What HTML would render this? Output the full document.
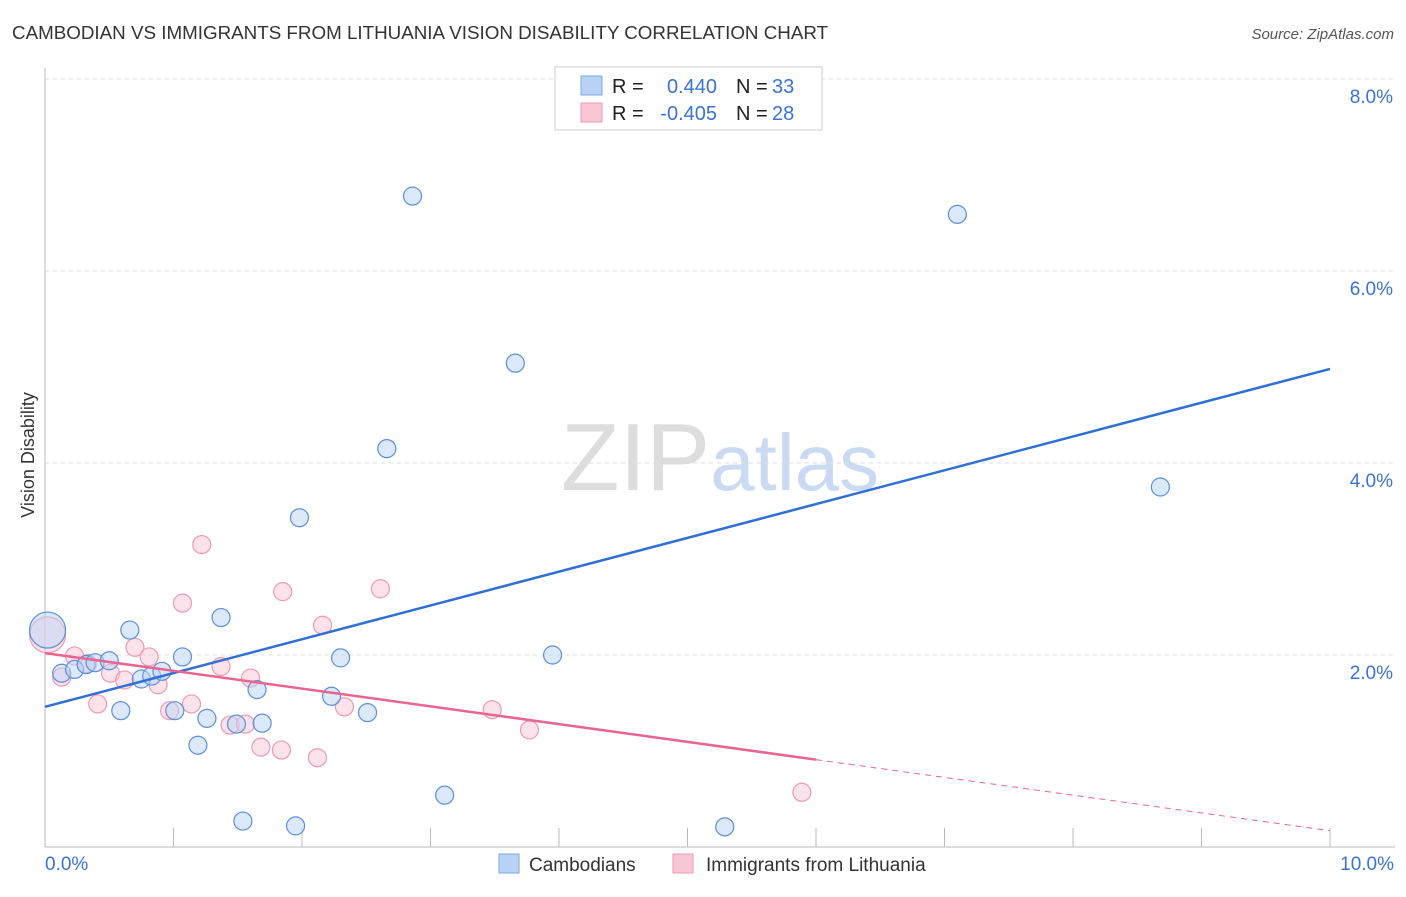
<!DOCTYPE html>
<html><head><meta charset="utf-8"><style>
body{margin:0;background:#fff;font-family:"Liberation Sans",sans-serif;}
svg text{font-family:"Liberation Sans",sans-serif;}
</style></head><body>
<svg id="chart" width="1406" height="892" xmlns="http://www.w3.org/2000/svg">
<text x="12" y="39" font-size="18.8" fill="#333">CAMBODIAN VS IMMIGRANTS FROM LITHUANIA VISION DISABILITY CORRELATION CHART</text>
<text x="1394" y="39" font-size="15" fill="#555" font-style="italic" text-anchor="end">Source: ZipAtlas.com</text>
<text x="720" y="490" font-size="96" text-anchor="middle" fill="#ddd" font-family="Liberation Serif">ZIP<tspan fill="#c9daf2" font-family="Liberation Sans" font-size="80">atlas</tspan></text>
<g id="grid"></g>
<g id="axes"></g>
<g id="marks"></g>
<text transform="translate(34,455) rotate(-90)" font-size="18" fill="#333" text-anchor="middle">Vision Disability</text>
<g>
<rect x="555" y="67" width="267" height="63" fill="#fff" stroke="#ccc"/>
<rect x="581" y="76" width="21" height="19" fill="#b9d3f7" stroke="#7ba7e6"/>
<rect x="581" y="103" width="21" height="19" fill="#f9c6d6" stroke="#ee9ab4"/>
<text x="612" y="93" font-size="20" fill="#222">R =</text><text x="717" y="93" font-size="20" fill="#3b73d1" text-anchor="end">0.440</text>
<text x="736" y="93" font-size="20" fill="#222">N =</text><text x="772" y="93" font-size="20" fill="#3b73d1">33</text>
<text x="612" y="120" font-size="20" fill="#222">R =</text><text x="717" y="120" font-size="20" fill="#3b73d1" text-anchor="end">-0.405</text>
<text x="736" y="120" font-size="20" fill="#222">N =</text><text x="772" y="120" font-size="20" fill="#3b73d1">28</text>
</g>
<g>
<rect x="499" y="854" width="20" height="19" fill="#b9d3f7" stroke="#7ba7e6"/>
<text x="529" y="871" font-size="19" fill="#333">Cambodians</text>
<rect x="673" y="854" width="20" height="19" fill="#f9c6d6" stroke="#ee9ab4"/>
<text x="706" y="871" font-size="19" fill="#333">Immigrants from Lithuania</text>
</g>
</svg>
<script>
const blueX=[0.02,0.13,0.23,0.32,0.39,0.50,0.59,0.66,0.75,0.83,0.91,1.01,1.07,1.19,1.26,1.37,1.49,1.65,1.69,1.54,1.95,1.98,2.23,2.30,2.51,2.66,2.86,3.11,3.66,3.95,5.29,7.10,8.68];
const blueY=[2.26,1.81,1.85,1.90,1.92,1.94,1.42,2.26,1.75,1.78,1.83,1.42,1.98,1.06,1.34,2.39,1.28,1.64,1.29,0.27,0.22,3.43,1.57,1.97,1.40,4.15,6.78,0.54,5.04,2.00,0.21,6.59,3.75];
const pinkX=[0.02,0.13,0.23,0.33,0.51,0.41,0.62,0.70,0.81,0.88,0.97,1.07,1.14,1.22,1.37,1.44,1.56,1.60,1.68,1.84,1.85,2.12,2.16,2.33,2.61,3.48,3.77,5.89];
const pinkY=[2.21,1.77,1.99,1.91,1.81,1.49,1.74,2.08,1.98,1.69,1.42,2.54,1.49,3.15,1.88,1.27,1.28,1.76,1.04,1.01,2.66,0.93,2.31,1.46,2.69,1.43,1.22,0.57];
const yTicks=[2,4,6,8];
const yTickLabels=["2.0%","4.0%","6.0%","8.0%"];
const xTickLabels=["0.0%","10.0%"];
const blueTrend=[1.46,4.98];
const pinkTrend=[2.02,0.17];
const pinkSolidEnd=6.0;
const NS="http://www.w3.org/2000/svg";
const sx=v=>45+v*128.5, sy=v=>847-v*96;
function mk(tag,attrs,parent){const e=document.createElementNS(NS,tag);for(const k in attrs)e.setAttribute(k,attrs[k]);document.getElementById(parent).appendChild(e);return e;}
yTicks.forEach((t,i)=>{
 const l=mk('line',{x1:45,x2:1395,y1:sy(t),y2:sy(t),stroke:'#ddd','stroke-dasharray':'4,4'},'grid');
 
 
 const tx=mk('text',{x:1393,y:sy(t)+24,'font-size':19,fill:'#3b73d1','text-anchor':'end'},'axes');
 tx.textContent=yTickLabels[i];
 
 
});
const ax=mk('line',{x1:45,x2:1395,y1:847,y2:847,stroke:'#bbb'},'axes');


const ay=mk('line',{x1:45,x2:45,y1:68,y2:847,stroke:'#bbb'},'axes');


for(let i=1;i<=10;i++){
 const t=mk('line',{x1:sx(i),x2:sx(i),y1:828,y2:847,stroke:'#bbb'},'axes');
 
 
}
[[0,'start',45],[10,'end',1394]].forEach((p,i)=>{
 const t=mk('text',{x:p[2],y:870,'font-size':19,fill:'#3b73d1','text-anchor':p[1]},'axes');
 t.textContent=xTickLabels[i];
 
 
});
function pts(xs,ys,fill,stroke,name){
 xs.forEach((x,i)=>{
  const c=mk('circle',{cx:sx(x),cy:sy(ys[i]),r:i===0?18:9,fill:fill,'fill-opacity':0.5,stroke:stroke,'stroke-width':1.2},'marks');
  
  
 });
}
pts(pinkX,pinkY,'#f9c6d6','#ee9ab4','point-lithuania');
pts(blueX,blueY,'#b9d3f7','#5b8fdc','point-cambodian');
const bl=mk('line',{x1:sx(0),y1:sy(blueTrend[0]),x2:sx(10),y2:sy(blueTrend[1]),stroke:'#2f6fd6','stroke-width':2.5},'marks');


const pAt=x=>pinkTrend[0]+(pinkTrend[1]-pinkTrend[0])*x/10;
const pl=mk('line',{x1:sx(0),y1:sy(pinkTrend[0]),x2:sx(pinkSolidEnd),y2:sy(pAt(pinkSolidEnd)),stroke:'#e9658f','stroke-width':2.5},'marks');


const pd=mk('line',{x1:sx(pinkSolidEnd),y1:sy(pAt(pinkSolidEnd)),x2:sx(10),y2:sy(pinkTrend[1]),stroke:'#e9658f','stroke-width':1,'stroke-dasharray':'6,5'},'marks');


</script>
</body></html>
